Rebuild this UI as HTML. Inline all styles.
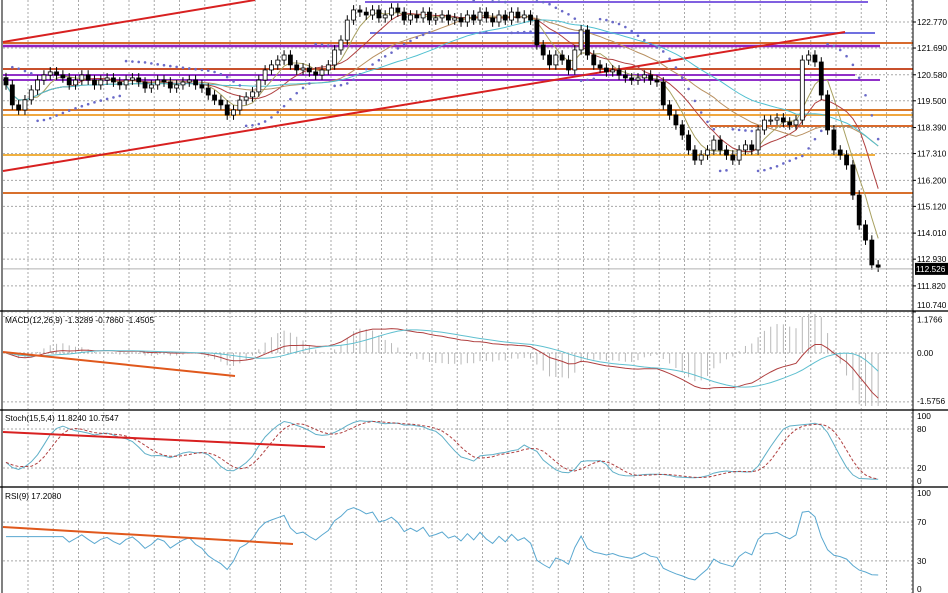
<!DOCTYPE html>
<html><head><meta charset="utf-8"><style>
html,body{margin:0;padding:0;background:#fff;}
svg{display:block;font-family:"Liberation Sans",sans-serif;}
</style></head><body>
<svg id="chart" width="948" height="593" viewBox="0 0 948 593" xmlns="http://www.w3.org/2000/svg">
<rect x="0" y="0" width="948" height="593" fill="#fff"/>
<g id="grid"></g>
<g id="levels"></g>
<g id="ma"></g>
<g id="sar"></g>
<g id="candles"></g>
<g id="ind"></g>
<g id="frame"></g>
<g id="labels" font-size="8.3" fill="#000"></g>
</svg>
<script>
const closes=[120.16,119.33,119.12,119.54,119.95,
120.36,120.57,120.70,120.57,120.45,120.16,120.36,120.57,120.36,120.16,
120.36,120.45,120.28,120.16,120.36,120.45,120.28,120.03,120.16,120.36,120.28,120.03,120.16,120.28,120.36,120.16,
120.03,119.74,119.53,119.33,118.91,119.12,
119.53,119.66,119.87,120.36,120.78,120.99,
121.19,121.40,120.99,120.78,120.86,120.70,120.57,120.78,
120.99,121.61,122.02,122.85,123.27,
123.18,123.06,123.27,122.94,123.06,123.35,123.18,122.85,123.06,122.94,123.18,122.85,122.94,123.06,122.85,
122.94,122.77,123.06,122.85,123.18,122.94,122.77,123.06,122.85,123.18,122.94,123.06,122.85,
121.82,121.40,120.99,121.40,121.19,120.78,121.61,
122.44,121.40,120.99,
120.86,120.70,120.78,120.57,120.45,120.36,120.45,120.57,120.36,120.28,
119.33,118.91,118.50,118.08,117.46,117.04,117.25,117.46,117.87,
117.46,117.25,117.04,117.46,117.67,117.46,118.29,118.70,
118.70,118.79,118.62,118.50,118.70,
121.19,121.40,121.11,119.74,118.29,117.46,117.25,116.84,115.59,114.35,113.72,112.69,112.60];
const priceTicks=[122.770,121.690,120.580,119.500,118.390,117.310,116.200,115.120,114.010,112.930,111.820,110.740];
const lastPrice=112.526;
const macdTickLabels=["1.1766","0.00","-1.5756"];
const macdTickValues=[1.1766,0,-1.5756];
const stochTicks=[100,80,20,0];
const rsiTicks=[100,70,30,0];

const NS="http://www.w3.org/2000/svg";
function el(tag,attrs,parent){const e=document.createElementNS(NS,tag);for(const k in attrs)e.setAttribute(k,attrs[k]);parent.appendChild(e);return e;}
const X0=6,DX=6.32,PR=913;
const xAt=i=>X0+i*DX;
const yP=p=>22+(122.77-p)*24.1;
const yMacd=v=>353-v*31;
const yStoch=v=>481-v*0.65;
const yRsi=v=>590-v*0.97;

const G=document.getElementById('grid');
for(let x=28;x<PR;x+=25.25){const l=el('line',{x1:x,y1:0,x2:x,y2:593,stroke:'#a8a8a8','stroke-dasharray':'2,2','stroke-width':1},G);
}
function hgrid(y){const l=el('line',{x1:3,y1:y,x2:PR,y2:y,stroke:'#a8a8a8','stroke-dasharray':'2,2'},G);
}
priceTicks.forEach(p=>hgrid(yP(p)));
macdTickValues.forEach(v=>hgrid(yMacd(v)));
[80,20].forEach(v=>hgrid(yStoch(v)));
[70,30].forEach(v=>hgrid(yRsi(v)));

const L=document.getElementById('levels');
const lines=[
[3,43,913,43,'#d86a2c',2],[3,69,913,69,'#c8502c',2],[3,110,913,110,'#d8782c',2],[3,115,913,115,'#f0a840',2],
[710,126,913,126,'#d86a2c',2],[3,155,875,155,'#f0b040',2],[3,193,913,193,'#d8702c',2],
[365,2,868,2,'#8060e0',2],[370,33,875,33,'#7070e0',2],[3,46,880,46,'#9020c0',2.5],[3,75,855,75,'#9030c8',2],[3,80,880,80,'#9030c8',2],
[3,42,255,0,'#d82020',2],[3,171,845,32,'#d82020',2]];
lines.forEach(a=>{const l=el('line',{x1:a[0],y1:a[1],x2:a[2],y2:a[3],stroke:a[4],'stroke-width':a[5]},L);
});

const opens=closes.map((c,i)=>i?closes[i-1]:c+0.3);
const highs=closes.map((c,i)=>Math.max(c,opens[i])+0.2);
const lows=closes.map((c,i)=>Math.min(c,opens[i])-0.2);

function sma(a,n){return a.map((_,i)=>{const s=a.slice(Math.max(0,i-n+1),i+1);return s.reduce((x,y)=>x+y,0)/s.length;});}
function ema(a,n){const k=2/(n+1);let r=[];a.forEach((v,i)=>r.push(i?v*k+r[i-1]*(1-k):v));return r;}
const M=document.getElementById('ma');
function poly(vals,yf,color,parent,name,dash,w){const pts=vals.map((v,i)=>xAt(i).toFixed(1)+','+yf(v).toFixed(1)).join(' ');
const p=el('polyline',{points:pts,fill:'none',stroke:color,'stroke-width':w||1},parent);if(dash)p.setAttribute('stroke-dasharray',dash);
return p;}
poly(sma(closes,5),yP,'#a8a060',M,'ma-fast');
poly(sma(closes,10),yP,'#b04040',M,'ma-medium');
poly(sma(closes,22),yP,'#b89060',M,'ma-slow');
poly(sma(closes,34),yP,'#50c0d0',M,'ma-long');

const S=document.getElementById('sar');
let up=false,af=0.02,ep=lows[0],sar=highs[0];
for(let i=1;i<closes.length;i++){
 sar=sar+af*(ep-sar);
 if(up){if(lows[i]<sar){up=false;sar=ep;ep=lows[i];af=0.02;}else if(highs[i]>ep){ep=highs[i];af=Math.min(0.2,af+0.02);}}
 else{if(highs[i]>sar){up=true;sar=ep;ep=highs[i];af=0.02;}else if(lows[i]<ep){ep=lows[i];af=Math.min(0.2,af+0.02);}}
 const y=yP(sar)+(up?6:-6);
 if(y>0&&y<309){const d=el('circle',{cx:xAt(i),cy:y,r:1.3,fill:'#6a6ac8'},S);
 }
}

const C=document.getElementById('candles');
closes.forEach((c,i)=>{const o=opens[i],x=xAt(i);
 const w=el('line',{x1:x,y1:yP(highs[i]),x2:x,y2:yP(lows[i]),stroke:'#000'},C);
 
 const top=yP(Math.max(o,c)),h=Math.max(1,Math.abs(yP(o)-yP(c)));
 const b=el('rect',{x:x-2,y:top,width:4,height:h,fill:c>=o?'#fff':'#000',stroke:'#000','stroke-width':0.8},C);
 });
const cp=el('line',{x1:3,y1:yP(lastPrice),x2:PR,y2:yP(lastPrice),stroke:'#b0b0b0'},C);


const I=document.getElementById('ind');
const e12=ema(closes,12),e26=ema(closes,26);
const macd=closes.map((_,i)=>e12[i]-e26[i]);
const signal=sma(macd,9);
closes.forEach((_,i)=>{const v=(macd[i]-signal[i])*2.5;const b=el('line',{x1:xAt(i),y1:yMacd(0),x2:xAt(i),y2:Math.max(314,Math.min(406,yMacd(v))),stroke:'#b8b8b8'},I);
 });
poly(macd,v=>Math.max(314,Math.min(406,yMacd(v))),'#b04040',I,'macd-line');
poly(signal,v=>Math.max(314,Math.min(406,yMacd(v))),'#60c0d0',I,'macd-signal-line');

const raw=closes.map((c,i)=>{const s=Math.max(0,i-14);const hh=Math.max(...highs.slice(s,i+1)),ll=Math.min(...lows.slice(s,i+1));return hh>ll?(c-ll)/(hh-ll)*100:50;});
const kLine=sma(raw,5),dLine=sma(kLine,4);
poly(kLine,yStoch,'#60b0c8',I,'stoch-k-line');
poly(dLine,yStoch,'#b04040',I,'stoch-d-line','3,2');

let ag=0,al=0;
for(let i=1;i<=9;i++){const d=closes[i]-closes[i-1];ag+=Math.max(d,0)/9;al+=Math.max(-d,0)/9;}
const rsi=closes.map((c,i)=>{if(i>9){const d=c-closes[i-1];ag=(ag*8+Math.max(d,0))/9;al=(al*8+Math.max(-d,0))/9;}return al===0?100:100-100/(1+ag/al);});
poly(rsi,yRsi,'#5aa8d0',I,'rsi-line');

[[3,352,235,376,'#e0581c'],[3,432,325,447,'#d82020'],[3,527,293,544,'#e0581c']].forEach(a=>{
 const l=el('line',{x1:a[0],y1:a[1],x2:a[2],y2:a[3],stroke:a[4],'stroke-width':2},I);
 });

const F=document.getElementById('frame');
[[0,311,948,311,2],[0,410,948,410,2],[0,487,948,487,2],[913,0,913,593,1],[2,0,2,593,1]].forEach(a=>{
 const l=el('line',{x1:a[0],y1:a[1],x2:a[2],y2:a[3],stroke:a[4]>1?'#555':'#000','stroke-width':a[4]},F);
 });

const T=document.getElementById('labels');
function txt(x,y,s,name,fill){const t=el('text',{x:x,y:y,fill:fill||'#000'},T);t.textContent=s;return t;}
priceTicks.forEach(p=>{txt(917,Math.min(yP(p)+3,308),p.toFixed(3),'price-tick-label');
 const k=el('line',{x1:913,y1:yP(p),x2:916,y2:yP(p),stroke:'#000'},T);});
const bx=el('rect',{x:915,y:yP(lastPrice)-6,width:33,height:12,fill:'#000'},T);

txt(916,yP(lastPrice)+3,lastPrice.toFixed(3),'current-price-label','#fff');
macdTickValues.forEach((v,i)=>txt(917,(v>1?yMacd(v)+6:v<-1?yMacd(v)+2:yMacd(v)+3),macdTickLabels[i],'macd-tick-label'));
stochTicks.forEach(v=>txt(917,yStoch(v)+3,String(v),'stoch-tick-label'));
rsiTicks.forEach(v=>txt(917,Math.min(592,Math.max(496,yRsi(v)+3)),String(v),'rsi-tick-label'));
txt(5,323,'MACD(12,26,9) -1.3289 -0.7860 -1.4505','macd-title');
txt(5,421,'Stoch(15,5,4) 11.8240 10.7547','stoch-title');
txt(5,499,'RSI(9) 17.2080','rsi-title');
</script>
</body></html>
